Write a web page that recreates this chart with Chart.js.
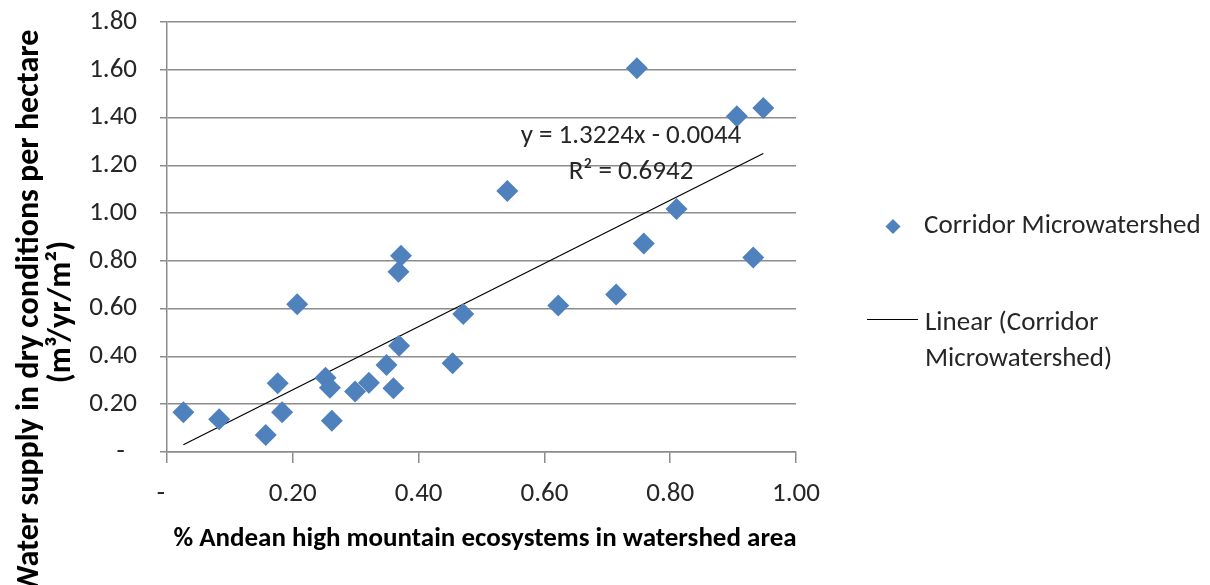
<!DOCTYPE html>
<html>
<head>
<meta charset="utf-8">
<script src="https://cdn.jsdelivr.net/npm/chart.js@4.4.0/dist/chart.umd.min.js"></script>
<style>
  html, body { margin: 0; padding: 0; background: #fff; }
  #wrap { width: 1210px; height: 585px; position: relative; }
</style>
</head>
<body>
<div id="wrap"><canvas id="chart"></canvas></div>
<script>
// share of Andean high mountain ecosystems (x) vs water supply (y)
const andeanShare = [0.026, 0.083, 0.157, 0.176, 0.183, 0.207, 0.252, 0.259, 0.262, 0.299,
    0.321, 0.349, 0.360, 0.368, 0.372, 0.369, 0.454, 0.471, 0.541, 0.622,
    0.714, 0.747, 0.758, 0.810, 0.906, 0.932, 0.948];
const waterSupply = [0.166, 0.137, 0.071, 0.288, 0.166, 0.619, 0.311, 0.269, 0.131, 0.253,
    0.290, 0.364, 0.267, 0.755, 0.822, 0.445, 0.372, 0.578, 1.093, 0.613,
    0.659, 1.606, 0.873, 1.017, 1.405, 0.814, 1.440];

const trendSlope = 1.3224;
const trendIntercept = -0.0044;
const trendR2 = 0.6942;

const seriesName = 'Corridor Microwatershed';
const trendNameLines = ['Linear (Corridor', 'Microwatershed)'];
const xTitle = '% Andean high mountain ecosystems in watershed area';
const yTitleLines = ['Water supply in dry conditions per hectare', '(m\u00B3/yr/m\u00B2)'];

const FONT = 'Carlito, Lato, sans-serif';
const BLUE = '#4F81BD';
const GRID = '#8c8c8c';
const TEXT = '#262626';

const points = andeanShare.map((x, i) => ({ x: x, y: waterSupply[i] }));
const xMin = Math.min(...andeanShare);
const xMax = Math.max(...andeanShare);
const trendPoints = [xMin, xMax].map(x => ({ x: x, y: trendSlope * x + trendIntercept }));

function accounting(v) {
    return v === 0 ? '-  ' : v.toFixed(2);
}

const textPlugin = {
    id: 'textPlugin',
    afterDraw(chart) {
        const ctx = chart.ctx;
        ctx.save();
        ctx.fillStyle = '#000';

        // y axis title (two lines, rotated)
        ctx.font = 'bold 32px ' + FONT;
        ctx.textAlign = 'center';
        ctx.textBaseline = 'middle';
        ctx.save();
        ctx.translate(30, 312);
        ctx.rotate(-Math.PI / 2);
        ctx.fillText(yTitleLines[0], 0, 0);
        ctx.fillText(yTitleLines[1], 0, 32);
        ctx.restore();

        // x axis title
        ctx.font = 'bold 27px ' + FONT;
        ctx.fillText(xTitle, 485, 539);

        // regression equation
        ctx.font = '27px ' + FONT;
        ctx.fillStyle = TEXT;
        ctx.fillText('y = ' + trendSlope.toFixed(4) + 'x - ' + Math.abs(trendIntercept).toFixed(4), 631, 136);
        ctx.fillText('R\u00B2 = ' + trendR2.toFixed(4), 631, 172);

        // legend
        ctx.fillStyle = BLUE;
        ctx.beginPath();
        ctx.moveTo(893, 219);
        ctx.lineTo(900.5, 226.5);
        ctx.lineTo(893, 234);
        ctx.lineTo(885.5, 226.5);
        ctx.closePath();
        ctx.fill();

        ctx.fillStyle = TEXT;
        ctx.textAlign = 'left';
        ctx.fillText(seriesName, 924, 226);
        ctx.fillText(trendNameLines[0], 925, 323);
        ctx.fillText(trendNameLines[1], 925, 359);

        ctx.strokeStyle = '#000';
        ctx.lineWidth = 1;
        ctx.beginPath();
        ctx.moveTo(867, 319.5);
        ctx.lineTo(918, 319.5);
        ctx.stroke();
        ctx.restore();
    }
};

new Chart(document.getElementById('chart'), {
    type: 'scatter',
    data: {
        datasets: [
            {
                label: seriesName,
                data: points,
                pointStyle: 'rectRot',
                pointRadius: 11,
                pointHoverRadius: 11,
                backgroundColor: BLUE,
                borderColor: BLUE,
                borderWidth: 0,
                order: 1
            },
            {
                label: trendNameLines.join(' '),
                data: trendPoints,
                showLine: true,
                pointRadius: 0,
                borderColor: '#000',
                borderWidth: 1.2,
                fill: false,
                order: 2
            }
        ]
    },
    options: {
        responsive: true,
        maintainAspectRatio: false,
        animation: false,
        layout: { padding: { left: 0, top: 22, right: 414, bottom: 0 } },
        plugins: {
            legend: { display: false },
            tooltip: { enabled: false }
        },
        scales: {
            x: {
                type: 'linear',
                min: 0,
                max: 1,
                afterFit: scale => { scale.height = 133; },
                ticks: {
                    stepSize: 0.2,
                    padding: 15,
                    color: TEXT,
                    font: { family: FONT, size: 27 },
                    maxRotation: 0,
                    callback: v => accounting(v)
                },
                grid: {
                    drawOnChartArea: false,
                    drawTicks: true,
                    tickLength: 11,
                    color: GRID,
                    lineWidth: 1.5
                },
                border: { display: true, color: GRID, width: 1.5 }
            },
            y: {
                type: 'linear',
                min: 0,
                max: 1.8,
                afterFit: scale => {
                    scale.width = 167;
                    scale.paddingTop = 0;
                    scale.paddingBottom = 0;
                },
                ticks: {
                    stepSize: 0.2,
                    padding: 23,
                    color: TEXT,
                    font: { family: FONT, size: 27 },
                    callback: v => accounting(v)
                },
                grid: {
                    drawTicks: true,
                    tickLength: 7,
                    color: GRID,
                    lineWidth: 1.5
                },
                border: { display: true, color: GRID, width: 1.5 }
            }
        }
    },
    plugins: [textPlugin]
});
</script>
</body>
</html>
